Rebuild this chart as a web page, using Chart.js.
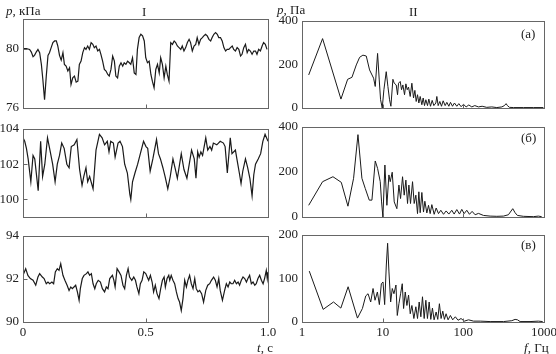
<!DOCTYPE html>
<html>
<head>
<meta charset="utf-8">
<script src="https://cdn.jsdelivr.net/npm/chart.js@4.4.1/dist/chart.umd.min.js"></script>
<style>
  html, body { margin: 0; padding: 0; background: #fff; }
  body { width: 556px; height: 354px; position: relative; overflow: hidden;
         font-family: 'Liberation Serif', 'DejaVu Serif', serif; color: #222; }
  canvas { position: absolute; }
  .lbl { position: absolute; font-size: 13px; line-height: 13px; white-space: nowrap; }
</style>
</head>
<body>
<canvas id="cA" width="278" height="107" style="left:0;top:9px"></canvas>
<canvas id="cB" width="278" height="106" style="left:0;top:119px"></canvas>
<canvas id="cC" width="278" height="114" style="left:0;top:226px"></canvas>
<canvas id="sAc" width="286" height="105" style="left:270px;top:11px"></canvas>
<canvas id="sBc" width="286" height="108" style="left:270px;top:117px"></canvas>
<canvas id="sCc" width="286" height="115" style="left:270px;top:225px"></canvas>

<div class="lbl" style="left:6px;top:4px"><i>p</i>, кПа</div>
<div class="lbl" style="left:142px;top:5px">I</div>
<div class="lbl" style="left:277px;top:3px"><i>p</i>, Па</div>
<div class="lbl" style="left:409px;top:5px">II</div>
<div class="lbl" style="left:521px;top:27px">(а)</div>
<div class="lbl" style="left:521px;top:131px">(б)</div>
<div class="lbl" style="left:521px;top:238px">(в)</div>
<div class="lbl" style="left:257px;top:341px"><i>t</i>, с</div>
<div class="lbl" style="left:524px;top:341px"><i>f</i>, Гц</div>

<script>
// ---- column I: pressure vs time ----
const tA = [0.000,0.007,0.014,0.020,0.027,0.034,0.041,0.047,0.054,0.061,
  0.068,0.075,0.081,0.088,0.095,0.102,0.108,0.115,0.122,0.129,
  0.136,0.142,0.149,0.156,0.163,0.169,0.176,0.183,0.190,0.196,
  0.203,0.210,0.217,0.224,0.230,0.237,0.244,0.251,0.257,0.264,
  0.271,0.278,0.285,0.291,0.298,0.305,0.312,0.318,0.325,0.332,
  0.339,0.346,0.352,0.359,0.366,0.373,0.379,0.386,0.393,0.400,
  0.407,0.413,0.420,0.427,0.434,0.440,0.447,0.454,0.461,0.467,
  0.474,0.481,0.488,0.495,0.501,0.508,0.515,0.522,0.528,0.535,
  0.542,0.549,0.556,0.562,0.569,0.576,0.583,0.589,0.596,0.603,
  0.610,0.617,0.623,0.630,0.637,0.644,0.650,0.657,0.664,0.671,
  0.678,0.684,0.691,0.698,0.705,0.711,0.718,0.725,0.732,0.738,
  0.745,0.752,0.759,0.766,0.772,0.779,0.786,0.793,0.799,0.806,
  0.813,0.820,0.827,0.833,0.840,0.847,0.854,0.860,0.867,0.874,
  0.881,0.888,0.894,0.901,0.908,0.915,0.921,0.928,0.935,0.942,
  0.949,0.955,0.962,0.969,0.976,0.982,0.989,0.996];
const pA = [80.00,80.00,80.00,79.98,79.95,79.77,79.46,79.55,79.77,79.95,
  79.73,78.94,77.92,76.56,78.15,79.55,79.73,80.07,80.41,80.52,
  80.52,80.18,79.55,79.23,79.73,78.94,78.82,78.49,78.71,77.58,
  78.03,78.15,77.74,77.81,78.94,79.16,79.73,80.07,79.95,80.18,
  79.95,80.41,80.29,80.07,80.18,79.84,79.95,79.62,79.16,78.60,
  78.49,78.26,78.15,78.60,79.50,79.16,78.15,78.03,78.82,79.05,
  78.82,79.05,78.94,79.16,79.05,78.94,79.39,78.37,78.26,79.95,
  80.75,80.97,80.86,80.52,79.39,79.05,79.16,78.26,77.81,77.36,
  78.60,78.94,78.37,79.39,78.94,78.03,78.82,78.26,77.81,80.41,
  80.29,80.52,80.41,80.18,80.07,79.95,80.18,79.84,80.07,80.41,
  80.63,80.41,79.84,80.18,80.29,80.75,80.29,80.63,80.75,80.86,
  80.97,80.86,80.63,80.52,80.75,80.97,81.08,80.97,80.75,80.75,
  80.52,80.07,79.84,79.95,79.95,80.07,80.18,79.95,79.84,80.07,
  79.95,79.50,79.62,80.07,80.29,79.73,79.95,79.84,79.62,79.84,
  79.84,79.62,79.95,79.84,80.18,80.41,80.29,79.95];

const tB = [0,0.007,0.014,0.021,0.032,0.041,0.048,0.062,0.072,0.080,
  0.089,0.100,0.110,0.121,0.131,0.140,0.149,0.158,0.168,0.179,
  0.188,0.197,0.209,0.220,0.231,0.241,0.248,0.257,0.264,0.272,
  0.286,0.298,0.312,0.323,0.333,0.344,0.351,0.358,0.369,0.376,
  0.388,0.396,0.406,0.415,0.426,0.436,0.440,0.447,0.457,0.468,
  0.479,0.492,0.502,0.509,0.519,0.530,0.545,0.553,0.561,0.571,
  0.580,0.591,0.601,0.612,0.622,0.630,0.646,0.657,0.669,0.688,
  0.699,0.706,0.713,0.719,0.726,0.733,0.746,0.754,0.763,0.770,
  0.777,0.791,0.805,0.818,0.825,0.834,0.846,0.853,0.867,0.873,
  0.883,0.890,0.897,0.908,0.917,0.926,0.935,0.942,0.949,0.960,
  0.970,0.979,0.988,0.994,1.000];
const pB = [103.5,103.3,102.9,102.3,101.0,102.5,102.3,100.5,103.3,101.3,
  102.0,103.5,102.8,102.0,101.0,102.0,102.5,103.2,102.9,102.0,
  101.8,103.0,103.1,103.4,101.7,100.8,101.3,101.8,101.0,101.3,
  100.6,102.8,103.7,103.5,103.1,103.3,102.7,103.3,103.2,102.4,
  103.2,103.3,103.0,102.0,101.5,100.3,100.0,101.0,101.5,102.0,
  102.6,103.3,103.0,102.9,101.6,102.3,103.4,102.6,102.3,101.8,
  101.3,100.6,101.3,102.3,101.7,101.2,102.6,101.7,101.2,102.8,
  102.3,101.2,102.7,102.4,102.7,102.5,103.5,102.8,103.0,102.8,
  103.2,103.1,103.3,103.2,103.0,101.5,103.5,102.6,102.8,102.3,
  101.5,100.9,101.6,102.3,101.8,101.2,100.2,101.4,102.0,102.3,
  102.6,103.3,103.7,103.5,103.3];

const tC = [0.000,0.011,0.020,0.030,0.041,0.052,0.061,0.068,0.079,0.086,
  0.095,0.102,0.109,0.118,0.125,0.132,0.140,0.147,0.154,0.163,
  0.171,0.180,0.188,0.195,0.201,0.208,0.215,0.222,0.229,0.234,
  0.242,0.249,0.259,0.265,0.272,0.279,0.286,0.293,0.299,0.307,
  0.316,0.324,0.333,0.340,0.347,0.354,0.365,0.371,0.376,0.384,
  0.392,0.400,0.408,0.415,0.422,0.429,0.435,0.444,0.452,0.459,
  0.465,0.473,0.479,0.486,0.493,0.501,0.507,0.513,0.520,0.527,
  0.533,0.540,0.547,0.555,0.562,0.569,0.576,0.581,0.588,0.595,
  0.599,0.605,0.612,0.619,0.626,0.633,0.639,0.646,0.653,0.660,
  0.667,0.673,0.680,0.687,0.694,0.701,0.707,0.714,0.721,0.729,
  0.737,0.746,0.754,0.762,0.769,0.778,0.785,0.792,0.799,0.805,
  0.814,0.823,0.830,0.837,0.844,0.850,0.857,0.864,0.871,0.878,
  0.884,0.891,0.898,0.905,0.912,0.918,0.925,0.932,0.939,0.946,
  0.952,0.959,0.966,0.973,0.980,0.986,0.993,0.997,1.000];
const pC = [92.17,92.48,92.17,92.02,91.94,91.71,92.09,92.25,92.09,92.02,
  91.78,91.86,91.78,91.86,91.78,92.33,92.48,92.40,92.71,92.17,
  91.94,91.71,91.47,91.63,91.55,91.63,91.71,91.40,91.01,91.55,
  92.02,92.17,92.25,92.33,92.17,92.25,91.78,91.55,91.78,91.94,
  91.86,91.55,91.40,91.63,91.55,92.02,92.17,91.94,91.63,92.48,
  92.33,92.17,91.71,91.55,92.17,92.48,92.09,91.94,92.09,91.94,
  91.63,91.32,91.78,91.94,92.33,92.25,92.09,91.94,92.17,91.86,
  91.40,91.71,91.32,91.09,91.55,91.94,92.09,91.63,92.02,92.17,
  91.94,92.17,91.94,91.78,91.40,91.09,90.93,90.54,91.09,91.94,
  91.63,91.94,92.17,91.78,91.55,92.02,91.55,91.40,91.47,91.32,
  90.93,91.47,91.71,91.78,91.94,92.09,91.94,91.63,92.02,91.47,
  91.01,91.47,91.78,91.63,91.86,91.78,91.78,91.94,91.78,91.86,
  91.71,91.94,92.09,92.02,91.86,92.02,92.17,91.78,91.86,91.71,
  91.78,92.02,92.17,91.94,91.78,92.02,92.40,92.02,92.33];

// ---- column II: spectra ----
const fA = [1.21,1.80,3.04,3.68,4.16,4.71,5.18,5.69,6.26,6.88,
  7.72,8.09,8.65,9.07,9.42,9.88,10.36,11.07,11.61,12.17,
  12.65,13.39,13.91,14.72,15.29,15.74,16.50,17.14,17.80,18.67,
  19.40,20.15,20.93,21.95,23.01,24.13,25.07,26.04,27.05,28.09,
  29.18,30.60,31.79,33.02,34.30,35.97,37.36,39.18,41.09,43.09,
  45.62,46.94,48.75,51.12,53.62,56.23,59.53,62.43,66.10,69.30,
  73.37,77.66,83.0,87.9,93.9,100.4,108.3,116.9,127.3,138.7,
  154,171,195,225,260,300,323,339,352,373,418,555,738,982];
const sA = [152,319,41,132,141,198,233,243,239,175,
  137,99,251,129,38,0,84,167,99,38,
  8,132,114,106,61,114,122,84,106,61,
  111,84,96,53,114,46,81,30,61,23,
  53,15,46,11,38,11,41,8,35,11,
  23,53,11,30,8,33,11,26,8,26,
  8,23,8,20,6,17,5,14,5,11,
  5,8,3,5,2,5,11,20,11,3,2,2,2,2];

const fB = [1.21,1.80,2.42,3.07,3.71,4.36,4.94,5.53,6.08,6.82,
  7.36,8.09,8.65,9.33,9.69,10.07,10.66,11.28,11.95,12.41,
  13.13,13.91,15.0,15.9,16.66,17.64,18.49,19.40,20.34,21.13,
  22.15,23.46,24.60,25.79,27.05,28.09,29.18,30.60,32.09,33.34,
  35.30,37.01,38.80,40.70,43.5,46.06,49.2,52.6,56.8,61.2,
  66.1,71.96,76.9,83.0,89.6,95.7,102.3,110.4,119.1,128.5,
  140,154,177.6,214.7,260,314,362,410,438,468,555,738,852,936];
const sB = [52,157,179,154,48,172,366,172,127,75,
  75,249,216,157,67,0,231,52,187,157,
  199,67,37,142,82,179,97,164,60,142,
  60,157,60,97,15,112,19,109,22,70,
  18,52,15,55,12,40,15,30,12,27,
  13,30,13,33,13,34,15,30,12,25,
  10,16,7,4,3,4,10,37,19,7,3,1.5,4,1.5];

const fC = [1.23,1.83,2.46,3.03,3.73,4.87,5.61,6.17,6.59,7.11,
  7.60,8.04,8.60,9.10,9.63,10.1,10.58,11.1,11.52,11.97,
  12.56,13.16,13.80,14.61,15.18,15.91,16.68,17.49,18.17,19.05,
  19.97,20.94,21.96,23.02,24.37,25.79,27.05,28.36,29.74,31.17,
  32.7,34.3,35.9,37.7,39.5,41.4,43.4,46.0,48.2,50.5,
  53.0,55.6,58.3,61.1,64.7,69.1,73.8,79.6,86.0,93.6,
  102.9,116,134,162,215,315,399,438,469,505,671,851,963];
const sC = [117,29,46,32,81,9,31,60,65,46,
  77,50,69,40,88,92,40,131,181,115,
  46,77,65,85,15,42,65,88,31,69,
  38,62,19,38,8,35,8,46,12,58,
  8,50,8,46,6,32,5,23,6,42,
  8,25,6,19,5,15,5,12,4,8,
  2,5,2,2,1,1,3,6,5,1,1,2,1];

// ---- ticks ----
const timeTicks = [0, 0.5, 1];
const timeLabels = ['0', '0.5', '1.0'];
const freqTicks = [1, 10, 100, 1000];
const pTicksA = [76, 80], pTicksB = [100, 102, 104], pTicksC = [90, 92, 94];
const sTicksA = [0, 200, 400], sTicksB = [0, 200, 400], sTicksC = [0, 100, 200];

Chart.defaults.font.family = "'Liberation Serif', 'DejaVu Serif', serif";
Chart.defaults.font.size = 13;
Chart.defaults.color = '#222';

const frame = {
  id: 'frame',
  afterDatasetsDraw(chart, args, o) {
    const { ctx, chartArea: a, scales } = chart;
    const l = Math.round(a.left) + 0.5, t = Math.round(a.top) + 0.5;
    const r = Math.round(a.right) + 0.5, b = Math.round(a.bottom) + 0.5;
    ctx.save();
    ctx.strokeStyle = '#666';
    ctx.lineWidth = 1;
    ctx.strokeRect(l, t, r - l, b - t);
    ctx.beginPath();
    (o.xMarks || []).forEach(v => {
      const x = Math.round(scales.x.getPixelForValue(v)) + 0.5;
      ctx.moveTo(x, b); ctx.lineTo(x, b - 4);
    });
    (o.yMarks || []).forEach(v => {
      const y = Math.round(scales.y.getPixelForValue(v)) + 0.5;
      ctx.moveTo(l, y); ctx.lineTo(l + 4, y);
    });
    ctx.stroke();
    ctx.restore();
  }
};

const xy = (xs, ys) => xs.map((x, i) => ({ x: x, y: ys[i] }));

function panel(id, o) {
  const fixTicks = vals => scale => { scale.ticks = vals.map(v => ({ value: v })); };
  new Chart(document.getElementById(id), {
    type: 'line',
    data: { datasets: [{
      data: xy(o.xs, o.ys),
      borderColor: '#1a1a1a',
      borderWidth: o.lw,
      pointRadius: 0,
      tension: 0
    }] },
    options: {
      responsive: false,
      animation: false,
      devicePixelRatio: 1,
      layout: { padding: { top: 10, right: o.padR, bottom: o.showX ? 0 : 8, left: 0 } },
      plugins: {
        legend: { display: false },
        tooltip: { enabled: false },
        frame: { xMarks: o.xMarks, yMarks: o.yMarks }
      },
      scales: {
        x: {
          type: o.xType, min: o.xMin, max: o.xMax,
          display: o.showX,
          grid: { display: false, drawTicks: false },
          border: { display: false },
          afterBuildTicks: fixTicks(o.xTicks),
          afterFit: s => { s.height = o.showX ? 18 : 0; s.paddingLeft = 0; s.paddingRight = 0; },
          ticks: { padding: 3, maxRotation: 0, autoSkip: false,
                   callback: v => o.xLabel(v) }
        },
        y: {
          min: o.yMin, max: o.yMax,
          grid: { display: false, drawTicks: false },
          border: { display: false },
          afterBuildTicks: fixTicks(o.yTicks),
          afterFit: s => { s.width = o.yW; s.paddingTop = 0; s.paddingBottom = 0; },
          ticks: { padding: 4, callback: v => String(v) }
        }
      }
    },
    plugins: [frame]
  });
}

const timeLabel = v => timeLabels[timeTicks.indexOf(v)] ?? '';
const left = { xType: 'linear', xMin: 0, xMax: 1, xTicks: timeTicks, xLabel: timeLabel,
               xMarks: [0.5], yW: 23, padR: 10, lw: 1.2 };
const right = { xType: 'logarithmic', xMin: 1, xMax: 1000, xTicks: freqTicks, xLabel: v => String(v),
                xMarks: [10, 100], yMarks: [], yW: 32, padR: 12, lw: 1 };

panel('cA', Object.assign({}, left, { xs: tA, ys: pA, yMin: 76, yMax: 82, yTicks: pTicksA, yMarks: pTicksA, showX: false }));
panel('cB', Object.assign({}, left, { xs: tB, ys: pB, yMin: 99, yMax: 104, yTicks: pTicksB, yMarks: pTicksB, showX: false }));
panel('cC', Object.assign({}, left, { xs: tC, ys: pC, yMin: 90, yMax: 94, yTicks: pTicksC, yMarks: pTicksC, showX: true }));
panel('sAc', Object.assign({}, right, { xs: fA, ys: sA, yMin: 0, yMax: 400, yTicks: sTicksA, showX: false }));
panel('sBc', Object.assign({}, right, { xs: fB, ys: sB, yMin: 0, yMax: 400, yTicks: sTicksB, showX: false }));
panel('sCc', Object.assign({}, right, { xs: fC, ys: sC, yMin: 0, yMax: 200, yTicks: sTicksC, showX: true }));
</script>
</body>
</html>
